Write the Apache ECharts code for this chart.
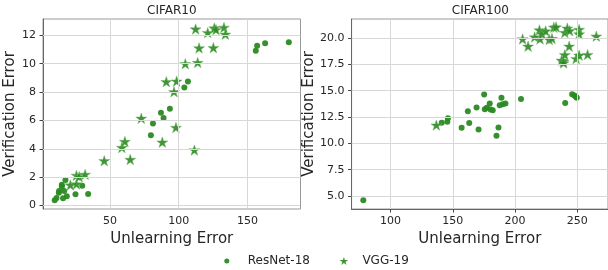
<!DOCTYPE html>
<html><head><meta charset="utf-8">
<script src="https://cdn.jsdelivr.net/npm/echarts@6/dist/echarts.min.js"></script>
<style>html,body{margin:0;padding:0;background:#fff}#c{width:608px;height:270px}</style>
</head><body><div id="c"></div>
<script>
const titles = ['CIFAR10', 'CIFAR100'];
const seriesNames = ['ResNet-18', 'VGG-19'];

const c10_resnet_x = [9.9, 11.2, 12.9, 13.1, 15.1, 15.1, 16.0, 16.8, 17.7, 18.7, 25.0, 29.9, 34.2, 79.8, 81.3, 87.1, 89.0, 93.6, 104.1, 106.7, 156.0, 157.0, 162.8, 180.0];
const c10_resnet_y = [0.37, 0.54, 0.91, 1.03, 1.47, 1.35, 0.52, 1.02, 1.80, 0.65, 0.80, 1.40, 0.82, 4.96, 5.78, 6.55, 6.18, 6.83, 8.33, 8.75, 10.92, 11.27, 11.44, 11.51];
const c10_vgg_x = [21.3, 25.7, 25.7, 27.7, 32.0, 45.9, 58.7, 60.9, 64.8, 72.8, 88.1, 91.0, 96.6, 98.0, 98.5, 104.8, 111.4, 112.3, 113.8, 114.8, 121.1, 125.2, 125.9, 127.1, 132.9, 133.9];
const c10_vgg_y = [1.45, 2.13, 1.52, 2.04, 2.20, 3.16, 4.09, 4.51, 3.25, 6.15, 4.47, 8.73, 8.02, 5.50, 8.77, 9.99, 3.91, 12.44, 10.08, 11.11, 12.19, 11.13, 12.51, 12.40, 12.56, 12.07];

const c100_resnet_x = [78.1, 141.1, 145.6, 146.1, 157.1, 162.1, 163.2, 169.1, 170.7, 175.2, 175.7, 177.3, 179.7, 180.3, 182.1, 185.1, 186.7, 187.7, 189.1, 190.1, 192.3, 204.8, 240.3, 245.9, 247.7, 249.1, 249.6];
const c100_resnet_y = [4.59, 11.95, 12.04, 12.39, 11.47, 13.05, 11.92, 13.40, 11.32, 14.63, 13.24, 13.37, 13.78, 13.21, 13.15, 10.72, 11.51, 13.62, 14.32, 13.72, 13.78, 14.22, 13.84, 14.66, 14.54, 14.41, 14.32];
const c100_vgg_x = [136.8, 206.1, 210.5, 215.8, 219.6, 220.1, 221.7, 224.6, 227.5, 229.7, 231.2, 233.0, 237.4, 238.8, 239.0, 240.0, 240.0, 242.0, 243.5, 243.9, 249.1, 251.5, 251.5, 251.5, 258.3, 265.3];
const c100_vgg_y = [11.73, 19.90, 19.21, 20.09, 20.76, 19.90, 20.37, 20.66, 19.85, 19.94, 21.01, 21.04, 17.88, 17.78, 17.63, 18.40, 20.51, 20.93, 19.21, 20.68, 18.04, 20.81, 20.38, 18.36, 18.42, 20.17];

const c10_xticks = [50, 100, 150];
const c10_yticks = [0, 2, 4, 6, 8, 10, 12];
const c100_xticks = [100, 150, 200, 250];
const c100_yticks = [5.0, 7.5, 10.0, 12.5, 15.0, 17.5, 20.0];

const xName = 'Unlearning Error';
const yName = 'Verification Error';

const zip = (a, b) => a.map((v, i) => [v, b[i]]);
const GREEN = '#2a8a22';
const STAR = 'path://M50 0L61.2 34.5L97.6 34.5L68.2 55.9L79.4 90.5L50 69.1L20.6 90.5L31.8 55.9L2.4 34.5L38.8 34.5Z';
const FONT = 'DejaVu Sans';
const TXT = '#262626';

function xAxis(idx, min, max, ticks) {
  return {
    type: 'value', gridIndex: idx, min, max,
    name: xName, nameLocation: 'middle', nameGap: 15,
    nameTextStyle: { fontFamily: FONT, fontSize: 15, color: TXT },
    axisLine: { show: true, lineStyle: { color: '#666', width: 1 } },
    axisTick: { show: true, length: 3.5, customValues: ticks, lineStyle: { color: '#444' } },
    axisLabel: { customValues: ticks, margin: 7, fontFamily: FONT, fontSize: 11, color: TXT },
    splitLine: { show: false }
  };
}
function yAxis(idx, min, max, ticks, fmt, gap) {
  return {
    type: 'value', gridIndex: idx, min, max,
    name: yName, nameLocation: 'middle', nameGap: gap,
    nameTextStyle: { fontFamily: FONT, fontSize: 15, color: TXT },
    axisLine: { show: true, lineStyle: { color: '#666', width: 1 } },
    axisTick: { show: true, length: 3.5, customValues: ticks, lineStyle: { color: '#444' } },
    axisLabel: { customValues: ticks, margin: 7, fontFamily: FONT, fontSize: 11, color: TXT, formatter: fmt },
    splitLine: { show: false }
  };
}
function gridLines(idx, xt, yt) {
  return {
    type: 'scatter', xAxisIndex: idx, yAxisIndex: idx, data: [], z: 1, silent: true,
    markLine: {
      silent: true, symbol: ['none', 'none'], label: { show: false },
      lineStyle: { color: '#d8d8d8', width: 1, type: 'solid' },
      emphasis: { disabled: true },
      data: xt.map(v => ({ xAxis: v })).concat(yt.map(v => ({ yAxis: v })))
    }
  };
}
function dots(idx, x, y) {
  return { name: seriesNames[0], type: 'scatter', xAxisIndex: idx, yAxisIndex: idx, z: 3,
    symbol: 'circle', symbolSize: 6, itemStyle: { color: GREEN, opacity: 0.95 }, data: zip(x, y) };
}
function stars(idx, x, y) {
  return { name: seriesNames[1], type: 'scatter', xAxisIndex: idx, yAxisIndex: idx, z: 3,
    symbol: STAR, symbolSize: 11, symbolKeepAspect: true,
    itemStyle: { color: GREEN, opacity: 0.9, borderColor: '#6db35f', borderWidth: 0.5 }, data: zip(x, y) };
}

const chart = echarts.init(document.getElementById('c'), null, { renderer: 'canvas' });
chart.setOption({
  animation: false,
  backgroundColor: '#fff',
  title: [
    { text: titles[0], left: 171.8, top: 5, textAlign: 'center', padding: 0, textStyle: { fontFamily: FONT, fontSize: 12, fontWeight: 'normal', color: TXT } },
    { text: titles[1], left: 480.4, top: 5, textAlign: 'center', padding: 0, textStyle: { fontFamily: FONT, fontSize: 12, fontWeight: 'normal', color: TXT } }
  ],
  legend: [
    { data: [{ name: seriesNames[0], icon: 'circle' }], left: 224.3, top: 255, padding: 0, itemWidth: 32, itemHeight: 5,
      textStyle: { fontFamily: FONT, fontSize: 12, color: TXT } },
    { data: [{ name: seriesNames[1], icon: STAR }], left: 339.7, top: 255, padding: 0, itemWidth: 27, itemHeight: 8,
      itemStyle: { borderWidth: 0 },
      textStyle: { fontFamily: FONT, fontSize: 12, color: TXT } }
  ],
  grid: [
    { left: 43, top: 19, width: 257.5, height: 190, show: true, borderColor: '#999', borderWidth: 1, containLabel: false },
    { left: 351.6, top: 19, width: 257.5, height: 190, show: true, borderColor: '#999', borderWidth: 1, containLabel: false }
  ],
  xAxis: [ xAxis(0, 1.4, 188.5, c10_xticks), xAxis(1, 68.7, 274.7, c100_xticks) ],
  yAxis: [
    yAxis(0, -0.24, 13.15, c10_yticks, v => String(Math.round(v)), 16),
    yAxis(1, 3.77, 21.8, c100_yticks, v => Number(v).toFixed(1), 30)
  ],
  series: [
    gridLines(0, c10_xticks, c10_yticks),
    gridLines(1, c100_xticks, c100_yticks),
    dots(0, c10_resnet_x, c10_resnet_y),
    stars(0, c10_vgg_x, c10_vgg_y),
    dots(1, c100_resnet_x, c100_resnet_y),
    stars(1, c100_vgg_x, c100_vgg_y)
  ]
});
</script></body></html>
